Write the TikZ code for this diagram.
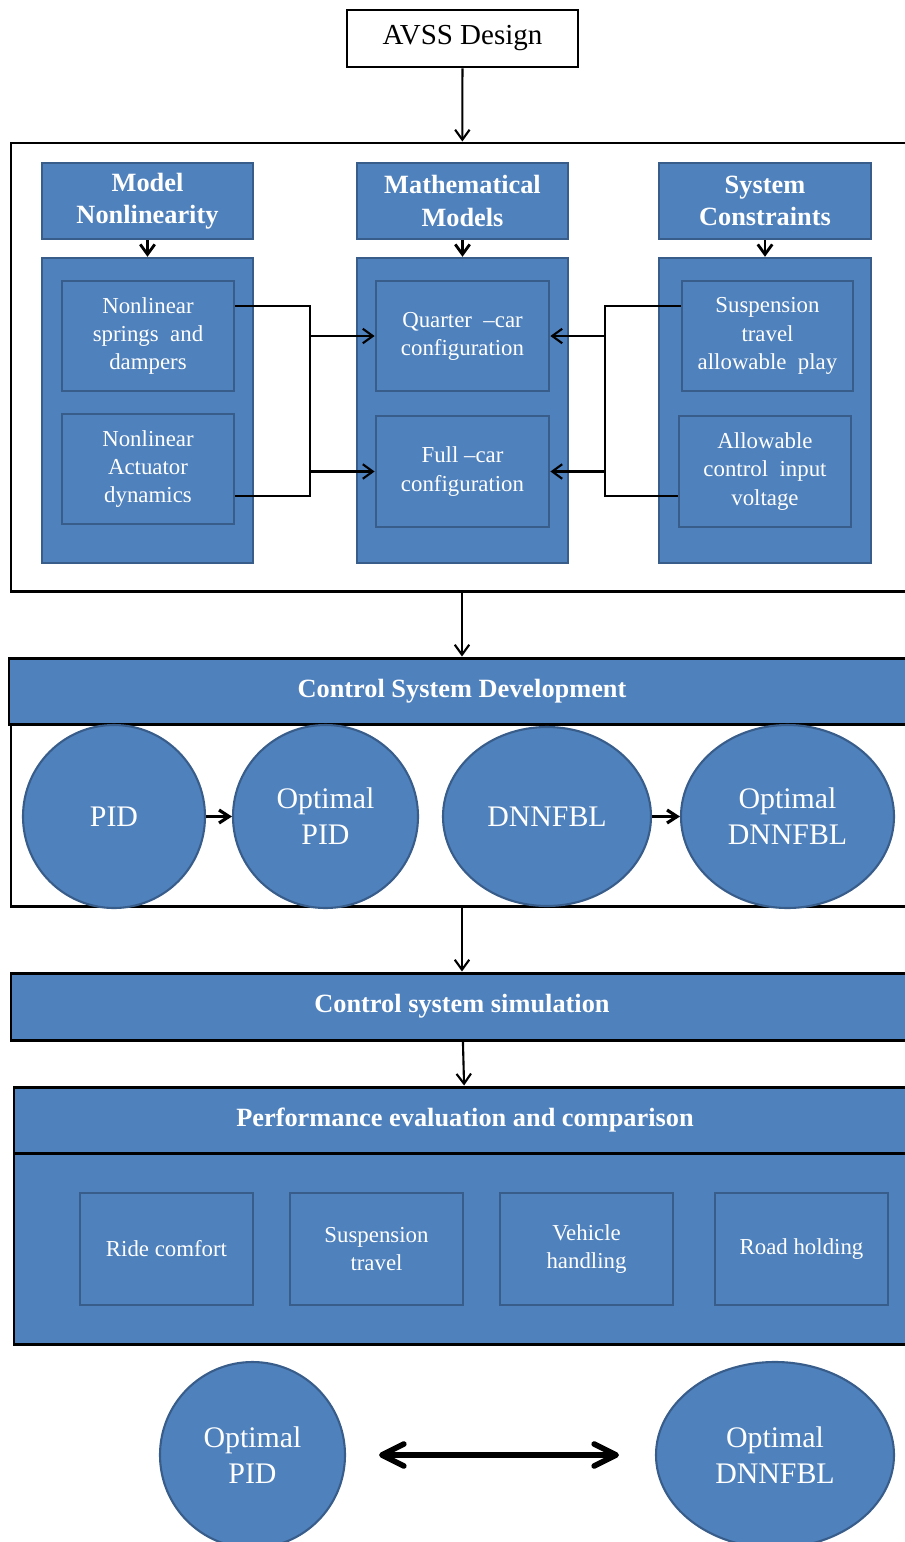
\documentclass[tikz,border=0pt]{standalone}
\usepackage{fontspec}
\setmainfont{Liberation Serif}
\usetikzlibrary{arrows.meta,shapes.geometric}
\definecolor{boxblue}{RGB}{79,129,189}
\definecolor{edgeblue}{RGB}{56,93,138}

\begin{document}
\begin{tikzpicture}[x=0.02cm,y=-0.02cm,
  dims/.style 2 args={minimum width=#1*0.02cm,minimum height=#2*0.02cm},
  base/.style={inner sep=0pt,align=center},
  hdr/.style={base,fill=boxblue,draw=edgeblue,line width=1.4pt,text=white,font=\fontsize{15}{18.5}\selectfont\bfseries},
  col/.style={base,fill=boxblue,draw=edgeblue,line width=1.4pt},
  item/.style={base,fill=boxblue,draw=edgeblue,line width=1.6pt,text=white,font=\fontsize{13}{16}\selectfont},
  band/.style={base,fill=boxblue,draw=black,line width=1.7pt,text=white,font=\fontsize{15}{18}\selectfont\bfseries},
  frame/.style={base,fill=white,draw=black,line width=1.7pt},
  oval/.style={base,ellipse,fill=boxblue,draw=edgeblue,line width=1.2pt,text=white,font=\fontsize{17}{20.5}\selectfont},
  conn/.style={line width=1.2pt},
  arr/.style={conn,-{Straight Barb[length=2mm,width=2.9mm]}},
  fat/.style={line width=1.8pt,-{Straight Barb[length=2mm,width=2.6mm]}}]
 \useasboundingbox (0,0) rectangle (905,1542);
 \clip (0,0) rectangle (905,1542);
 % top
 \node[frame, dims={231}{57}, font=\fontsize{16.5}{20}\selectfont] (avss) at (462.5,38.5) {AVSS Design};
 \node[frame, dims={902}{448}] (design) at (462,367) {};
 \node[hdr, dims={211}{76}] (mnh) at (147.5,201) {Model\\Nonlinearity};
 \node[hdr, dims={211}{76}] (mmh) at (462.5,201) {Mathematical\\Models};
 \node[hdr, dims={212}{76}] (sch) at (765,201) {System\\Constraints};
 \node[col, dims={211}{305}] (mnc) at (147.5,410.5) {};
 \node[col, dims={211}{305}] (mmc) at (462.5,410.5) {};
 \node[col, dims={212}{305}] (scc) at (765,410.5) {};
 \node[item, dims={172}{110}] (springs) at (148,336) {Nonlinear\\springs\ \ and\\dampers};
 \node[item, dims={172}{110}] (actuator) at (148,469) {Nonlinear\\Actuator\\dynamics};
 \node[item, dims={173}{110}] (quarter) at (462.5,336) {Quarter\ \ --car\\configuration};
 \node[item, dims={173}{111}] (full) at (462.5,471.5) {Full --car\\configuration};
 \node[item, dims={171}{110}] (travel) at (767.5,336) {Suspension\\travel\\allowable\ \ play};
 \node[item, dims={172}{111}] (voltage) at (765,471.5) {Allowable\\control\ \ input\\voltage};
 \draw[arr] (avss) -- (design);
 \foreach \h/\c in {mnh/mnc,mmh/mmc,sch/scc}
   \draw[arr,line width=1.6pt] (\h) -- (\c);
 \coordinate (jl) at (310,400);
 \coordinate (jr) at (605,400);
 \draw[conn] ([yshift=0.6cm]springs.east) -| (jl) |- ([yshift=-0.54cm]actuator.east);
 \draw[conn] ([yshift=0.6cm]travel.west) -| (jr) |- ([yshift=-0.49cm]voltage.west);
 \draw[arr] (jl |- quarter) -- (quarter);
 \draw[arr] (jl |- full) -- (full);
 \draw[arr] (jr |- quarter) -- (quarter);
 \draw[arr] (jr |- full) -- (full);
 % control design
 \node[band, dims={906}{66}] (csd) at (462,691) {Control System Development};
 \node[frame, dims={902}{182}] (csdbody) at (462,815) {};
 \draw[arr] (design) -- (csd);
 \node[oval, dims={182}{183}] (pid) at (114,816.5) {PID};
 \node[oval, dims={185}{183}] (opid) at (325.5,816.5) {Optimal\\PID};
 \node[oval, dims={208}{179}] (dnn) at (547,816.5) {DNNFBL};
 \node[oval, dims={213}{183}] (odnn) at (787.5,816.5) {Optimal\\DNNFBL};
 \draw[fat] (pid) -- (opid);
 \draw[fat] (dnn) -- (odnn);
 % simulation and evaluation
 \node[band, dims={902}{67}] (sim) at (462,1006.5) {Control system simulation};
 \draw[arr] (csdbody) -- (sim);
 \node[band, dims={902}{66}] (perf) at (465,1120) {Performance evaluation and comparison};
 \node[band, dims={902}{191}] (perfbody) at (465,1248.5) {};
 \draw[arr] (sim) -- (perf);
 \foreach \n/\x/\t in {ride/166.5/Ride comfort, susp/376.5/Suspension\\travel, handling/586.5/Vehicle\\handling, road/801.5/Road holding}
   \node[item, dims={173}{112}] (\n) at (\x,1249) {\t};
 % comparison
 \node[oval, dims={185}{186}] (bpid) at (252.5,1455) {Optimal\\PID};
 \node[oval, dims={238}{186}] (bdnn) at (775,1455) {Optimal\\DNNFBL};
 \draw[line width=3.2pt, {Straight Barb[length=4.4mm,width=4.4mm,round]}-{Straight Barb[length=4.4mm,width=4.4mm,round]},
   shorten <=0.66cm, shorten >=0.72cm] (bpid) -- (bdnn);
\end{tikzpicture}
\end{document}
